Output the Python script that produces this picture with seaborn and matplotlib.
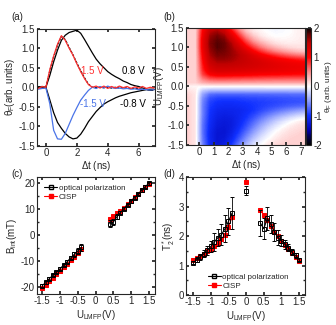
import numpy as np
import matplotlib
matplotlib.use("Agg")
import matplotlib.pyplot as plt
import seaborn as sns
from matplotlib.colors import LinearSegmentedColormap
from matplotlib.lines import Line2D
from matplotlib.ticker import MultipleLocator

# ---- panel (a): time traces ----
t_ns = [-0.5, -0.25, 0.0, 0.25, 0.5, 0.75, 1.0, 1.25, 1.5, 1.75, 2.0, 2.25, 2.5, 2.75, 3.0, 3.25,
        3.5, 3.75, 4.0, 4.25, 4.5, 4.75, 5.0, 5.25, 5.5, 5.75, 6.0, 6.25, 6.5, 6.75, 7.0]
red_p15 = [-0.03, 0.02, 0.0, 0.45, 0.8, 1.1, 1.32, 1.2, 1.0, 0.82, 0.6, 0.4, 0.22, 0.07, 0.0, 0.03,
           -0.02, 0.03, -0.03, 0.02, -0.02, 0.03, -0.01, 0.02, -0.03, 0.01, -0.02, 0.02, -0.03, 0.0, -0.02]
blk_p15 = [0.0, -0.02, 0.0, 0.42, 0.78, 1.08, 1.3, 1.22, 1.02, 0.83, 0.62, 0.42, 0.24, 0.08, 0.0, -0.01,
           0.0, -0.01, 0.0, -0.02, 0.0, -0.02, -0.01, -0.02, -0.03, -0.03, -0.04, -0.05, -0.06, -0.07, -0.08]
blk_p08 = [0.0, -0.02, 0.0, 0.3, 0.65, 0.95, 1.2, 1.33, 1.4, 1.43, 1.46, 1.38, 1.22, 1.05, 0.88, 0.72,
           0.6, 0.5, 0.4, 0.33, 0.27, 0.22, 0.16, 0.12, 0.07, 0.04, 0.02, -0.02, -0.05, -0.08, -0.06]
blk_m08 = [0.0, 0.02, 0.0, -0.32, -0.65, -0.9, -1.05, -1.18, -1.27, -1.32, -1.3, -1.2, -1.05, -0.88, -0.75, -0.62,
           -0.52, -0.43, -0.37, -0.32, -0.27, -0.23, -0.2, -0.17, -0.14, -0.12, -0.1, -0.08, -0.06, -0.05, -0.05]
blue_m15 = [-0.05, -0.03, -0.02, -0.42, -1.1, -1.32, -1.33, -1.18, -0.95, -0.72, -0.52, -0.33, -0.2, -0.08, 0.0, -0.03,
            0.02, -0.02, 0.03, -0.01, -0.03, -0.02, -0.04, -0.03, -0.05, -0.04, -0.06, -0.05, -0.06, -0.07, -0.06]

# ---- panel (b): map, rows U = 1.5 ... -1.5, columns dt = -0.75 ... 7.25 ----
map_t = [-0.75, -0.25, 0.25, 0.75, 1.25, 1.75, 2.25, 2.75, 3.25, 3.75, 4.25, 4.75, 5.25, 5.75, 6.25, 6.75, 7.25]
map_u = [1.5, 1.4, 1.3, 1.2, 1.1, 1.0, 0.9, 0.8, 0.7, 0.6, 0.5, 0.4, 0.3, 0.2, 0.1, 0.0,
         -0.1, -0.2, -0.3, -0.4, -0.5, -0.6, -0.7, -0.8, -0.9, -1.0, -1.1, -1.2, -1.3, -1.4, -1.5]
theta_map = [
    [0.2, 0.2, 0.95, 1.35, 1.45, 1.25, 0.85, 0.45, 0.2, 0.08, 0.02, -0.03, -0.05, -0.03, 0.0, 0.05, 0.08],
    [0.2, 0.2, 1.05, 1.5, 1.6, 1.45, 1.05, 0.65, 0.3, 0.12, 0.05, 0.0, -0.03, -0.02, 0.0, 0.05, 0.08],
    [0.2, 0.2, 1.1, 1.6, 1.72, 1.6, 1.25, 0.85, 0.48, 0.24, 0.1, 0.03, 0.0, 0.0, 0.02, 0.05, 0.08],
    [0.2, 0.2, 1.15, 1.65, 1.78, 1.7, 1.42, 1.05, 0.68, 0.4, 0.22, 0.12, 0.06, 0.04, 0.04, 0.06, 0.08],
    [0.2, 0.2, 1.15, 1.68, 1.8, 1.75, 1.55, 1.22, 0.88, 0.6, 0.4, 0.25, 0.15, 0.1, 0.08, 0.08, 0.1],
    [0.2, 0.2, 1.15, 1.65, 1.8, 1.75, 1.6, 1.38, 1.08, 0.82, 0.6, 0.44, 0.32, 0.23, 0.17, 0.14, 0.12],
    [0.2, 0.2, 1.1, 1.6, 1.75, 1.72, 1.62, 1.48, 1.28, 1.05, 0.85, 0.68, 0.55, 0.45, 0.37, 0.3, 0.26],
    [0.2, 0.2, 1.05, 1.55, 1.7, 1.68, 1.62, 1.52, 1.4, 1.25, 1.1, 0.97, 0.85, 0.75, 0.66, 0.6, 0.55],
    [0.2, 0.2, 1.0, 1.48, 1.62, 1.62, 1.58, 1.5, 1.42, 1.33, 1.25, 1.17, 1.1, 1.03, 0.97, 0.92, 0.88],
    [0.2, 0.2, 0.95, 1.4, 1.52, 1.52, 1.5, 1.45, 1.4, 1.35, 1.3, 1.25, 1.2, 1.16, 1.12, 1.09, 1.06],
    [0.2, 0.2, 0.9, 1.3, 1.42, 1.42, 1.4, 1.38, 1.35, 1.32, 1.28, 1.25, 1.22, 1.19, 1.16, 1.14, 1.12],
    [0.2, 0.2, 0.85, 1.2, 1.3, 1.3, 1.28, 1.26, 1.24, 1.22, 1.2, 1.18, 1.16, 1.14, 1.12, 1.1, 1.1],
    [0.2, 0.2, 0.75, 1.0, 1.08, 1.08, 1.06, 1.05, 1.04, 1.02, 1.0, 0.99, 0.98, 0.97, 0.96, 0.95, 0.95],
    [0.2, 0.2, 0.55, 0.72, 0.76, 0.76, 0.75, 0.74, 0.73, 0.72, 0.71, 0.7, 0.7, 0.69, 0.68, 0.68, 0.68],
    [0.2, 0.2, 0.35, 0.42, 0.44, 0.44, 0.43, 0.43, 0.42, 0.42, 0.41, 0.41, 0.4, 0.4, 0.4, 0.4, 0.4],
    [0.06, 0.04, 0.02, 0.02, 0.02, 0.02, 0.02, 0.02, 0.02, 0.02, 0.02, 0.02, 0.02, 0.02, 0.02, 0.02, 0.02],
    [0.12, 0.08, -0.25, -0.35, -0.36, -0.36, -0.36, -0.36, -0.36, -0.36, -0.36, -0.35, -0.35, -0.35, -0.35, -0.35, -0.35],
    [0.18, 0.1, -0.45, -0.7, -0.75, -0.75, -0.75, -0.75, -0.74, -0.74, -0.73, -0.73, -0.72, -0.72, -0.71, -0.7, -0.7],
    [0.2, 0.1, -0.55, -0.85, -0.92, -0.93, -0.93, -0.92, -0.9, -0.89, -0.88, -0.87, -0.86, -0.85, -0.84, -0.83, -0.82],
    [0.2, 0.1, -0.6, -0.92, -1.0, -1.02, -1.02, -1.0, -0.98, -0.96, -0.94, -0.92, -0.9, -0.88, -0.86, -0.85, -0.84],
    [0.2, 0.1, -0.62, -0.95, -1.05, -1.07, -1.07, -1.05, -1.02, -0.98, -0.94, -0.9, -0.86, -0.82, -0.78, -0.75, -0.72],
    [0.2, 0.1, -0.62, -0.98, -1.1, -1.12, -1.12, -1.1, -1.05, -0.98, -0.9, -0.82, -0.74, -0.66, -0.59, -0.53, -0.48],
    [0.2, 0.1, -0.62, -1.0, -1.13, -1.16, -1.14, -1.1, -1.02, -0.92, -0.8, -0.68, -0.57, -0.47, -0.38, -0.3, -0.25],
    [0.2, 0.1, -0.64, -1.02, -1.16, -1.2, -1.18, -1.1, -0.98, -0.84, -0.68, -0.53, -0.4, -0.28, -0.18, -0.1, -0.04],
    [0.2, 0.1, -0.66, -1.04, -1.2, -1.23, -1.2, -1.08, -0.92, -0.74, -0.56, -0.4, -0.25, -0.13, -0.03, 0.05, 0.1],
    [0.2, 0.1, -0.68, -1.06, -1.22, -1.25, -1.2, -1.05, -0.86, -0.65, -0.45, -0.28, -0.14, -0.03, 0.06, 0.12, 0.15],
    [0.2, 0.1, -0.68, -1.08, -1.25, -1.27, -1.18, -1.0, -0.78, -0.55, -0.35, -0.18, -0.05, 0.05, 0.12, 0.15, 0.18],
    [0.2, 0.1, -0.68, -1.1, -1.27, -1.27, -1.15, -0.93, -0.68, -0.45, -0.25, -0.1, 0.02, 0.1, 0.15, 0.18, 0.2],
    [0.2, 0.1, -0.66, -1.1, -1.27, -1.25, -1.1, -0.85, -0.58, -0.34, -0.16, -0.03, 0.07, 0.14, 0.18, 0.2, 0.2],
    [0.2, 0.1, -0.64, -1.08, -1.27, -1.22, -1.03, -0.75, -0.47, -0.24, -0.08, 0.04, 0.12, 0.17, 0.2, 0.2, 0.2],
    [0.2, 0.1, -0.6, -1.06, -1.25, -1.17, -0.95, -0.63, -0.35, -0.14, 0.0, 0.1, 0.16, 0.2, 0.2, 0.2, 0.2],
]

# ---- panels (c), (d): voltage dependence ----
u_neg = [-1.5, -1.4, -1.3, -1.2, -1.1, -1.0, -0.9, -0.8, -0.7, -0.6, -0.5, -0.4]
u_pos = [0.4, 0.5, 0.6, 0.7, 0.8, 0.9, 1.0, 1.1, 1.2, 1.3, 1.4, 1.5]
u_zero = [0.0]

b_opt_neg = [-19.5, -18.3, -16.8, -15.5, -14.3, -13.0, -11.6, -10.3, -8.8, -7.5, -6.1, -4.8]
b_opt_neg_err = [0.6, 0.5, 0.5, 0.5, 0.5, 0.5, 0.5, 0.6, 0.6, 0.8, 1.2, 1.5]
b_cisp_neg = [-20.5, -19.3, -17.9, -16.6, -15.2, -13.8, -12.5, -11.1, -9.7, -8.3, -6.8, -5.3]
b_opt_pos = [4.4, 5.0, 7.0, 8.6, 10.2, 11.6, 13.0, 14.4, 15.8, 17.2, 18.6, 19.9]
b_opt_pos_err = [1.5, 1.3, 0.9, 0.7, 0.6, 0.5, 0.5, 0.5, 0.5, 0.5, 0.5, 0.6]
b_cisp_pos = [6.3, 7.3, 8.3, 9.3, 10.5, 11.8, 13.2, 14.5, 15.9, 17.2, 18.5, 19.6]

t2_opt_neg = [1.1, 1.2, 1.3, 1.4, 1.52, 1.65, 1.8, 1.95, 2.05, 2.25, 2.5, 2.78]
t2_opt_neg_err = [0.05, 0.08, 0.1, 0.12, 0.15, 0.2, 0.3, 0.3, 0.35, 0.45, 0.45, 0.55]
t2_cisp_neg = [1.2, 1.26, 1.33, 1.4, 1.48, 1.57, 1.67, 1.78, 1.9, 2.05, 2.3, 2.65]
t2_opt_pos = [2.45, 2.25, 2.6, 2.4, 2.15, 1.95, 1.85, 1.72, 1.6, 1.45, 1.35, 1.2]
t2_opt_pos_err = [0.45, 0.35, 0.4, 0.3, 0.3, 0.25, 0.2, 0.15, 0.12, 0.1, 0.08, 0.05]
t2_cisp_pos = [2.88, 2.72, 2.56, 2.35, 2.15, 2.0, 1.85, 1.7, 1.55, 1.42, 1.28, 1.15]
t2_opt_zero = [3.54]
t2_opt_zero_err = [0.15]
t2_cisp_zero = [3.84]

u_ticks = [-1.5, -1.0, -0.5, 0.0, 0.5, 1.0, 1.5]
u_ticklabels = ["-1.5", "-1", "-0.5", "0", "0.5", "1", "1.5"]

sns.set_theme(style="ticks")
plt.rcParams['font.family'] = ['Liberation Sans', 'DejaVu Sans']
plt.rcParams.update({
    'axes.unicode_minus': False,
    'mathtext.fontset': 'custom',
    'mathtext.rm': 'Liberation Sans',
    'mathtext.it': 'Liberation Sans:italic',
    'font.size': 7,
    'axes.labelsize': 7,
    'xtick.labelsize': 7,
    'ytick.labelsize': 7,
    'xtick.direction': 'in',
    'ytick.direction': 'in',
    'xtick.top': True,
    'ytick.right': True,
    'xtick.major.size': 2.5,
    'ytick.major.size': 2.5,
    'xtick.minor.size': 1.5,
    'ytick.minor.size': 1.5,
    'xtick.major.pad': 1.5,
    'ytick.major.pad': 1.5,
    'axes.linewidth': 0.8,
    'axes.labelpad': 1.0,
})

fig = plt.figure(figsize=(3.36, 3.25), dpi=100)
ax_a = fig.add_axes([0.110, 0.551, 0.351, 0.361])
ax_b = fig.add_axes([0.554, 0.554, 0.354, 0.360])
cax = fig.add_axes([0.911, 0.554, 0.015, 0.360])
ax_c = fig.add_axes([0.110, 0.095, 0.351, 0.360])
ax_d = fig.add_axes([0.554, 0.092, 0.354, 0.363])

# (a)
red_c = '#ff3030'
blue_c = '#4a74e8'
sns.lineplot(x=t_ns, y=blk_p15, color='black', lw=0.9, ls=(0, (2, 1)), ax=ax_a)
sns.lineplot(x=t_ns, y=blk_p08, color='black', lw=0.9, ax=ax_a)
sns.lineplot(x=t_ns, y=blk_m08, color='black', lw=0.9, ax=ax_a)
sns.lineplot(x=t_ns, y=blue_m15, color=blue_c, lw=0.9, ax=ax_a)
sns.lineplot(x=t_ns, y=red_p15, color=red_c, lw=0.9, ax=ax_a)
ax_a.text(2.3, 0.42, '1.5 V', color=red_c, fontsize=7, va='center')
ax_a.text(4.9, 0.42, '0.8 V', color='black', fontsize=7, va='center')
ax_a.text(2.2, -0.43, '-1.5 V', color=blue_c, fontsize=7, va='center')
ax_a.text(4.8, -0.43, '-0.8 V', color='black', fontsize=7, va='center')
ax_a.set_xlim(-0.58, 7.05)
ax_a.set_ylim(-1.5, 1.5)
ax_a.set_xticks([0, 2, 4, 6])
ax_a.set_yticks([-1.5, -1.0, -0.5, 0.0, 0.5, 1.0, 1.5])
ax_a.yaxis.set_major_formatter('{x:.1f}')
ax_a.set_xlabel(r'$\Delta$t (ns)')
ax_a.set_ylabel(r'$\mathrm{\theta_F}$(arb. units)')

# (b)
cmap = LinearSegmentedColormap.from_list('rwb', [
    (0.0, 'black'), (0.07, '#000050'), (0.125, '#0000b0'), (0.25, '#1030ff'), (0.375, '#8c9cff'),
    (0.5, 'white'), (0.625, '#ff8c8c'), (0.75, '#ff0000'), (0.875, '#c00000'), (0.94, '#6a0000'),
    (1.0, 'black')])
dt_half = 0.25
du_half = 0.05
im = ax_b.imshow(np.array(theta_map), cmap=cmap, vmin=-2, vmax=2, aspect='auto', origin='upper',
                 interpolation='bilinear',
                 extent=[map_t[0] - dt_half, map_t[-1] + dt_half, map_u[-1] - du_half, map_u[0] + du_half])
ax_b.set_xlim(-0.9, 7.3)
ax_b.set_ylim(-1.5, 1.5)
ax_b.set_xticks(range(8))
ax_b.set_yticks([-1.5, -1.0, -0.5, 0.0, 0.5, 1.0, 1.5])
ax_b.yaxis.set_major_formatter('{x:.1f}')
ax_b.tick_params(top=False, right=False)
ax_b.set_xlabel(r'$\Delta$t (ns)')
ax_b.set_ylabel(r'U$_\mathrm{LMFP}$(V)')
cb = fig.colorbar(im, cax=cax, ticks=[-2, -1, 0, 1, 2])
cb.ax.tick_params(labelsize=7, length=2, direction='in', pad=1.5)
cb.outline.set_linewidth(0.8)
cb.ax.text(4.4, 0.5, r'$\mathrm{\theta_F}$ (arb. units)', fontsize=6.0, rotation=90,
           ha='center', va='center', transform=cb.ax.transAxes)


def branch(ax, u, opt, opt_err, cisp):
    ax.errorbar(u, opt, yerr=opt_err, fmt='-s', color='black', mfc='none', mec='black', ms=3.5,
                lw=0.8, mew=0.7, elinewidth=0.6, capsize=1.5, capthick=0.6, zorder=3)
    sns.lineplot(x=u, y=cisp, color='red', marker='s', markersize=3.5, markeredgecolor='red',
                 lw=0.8, ax=ax, zorder=2)


def legend(ax, **kw):
    handles = [Line2D([], [], color='black', marker='s', mfc='none', ms=3.5, lw=0.8),
               Line2D([], [], color='red', marker='s', ms=3.5, lw=0.8)]
    ax.legend(handles, ['optical polarization', 'CISP'], frameon=False, fontsize=5.8,
              handlelength=1.6, handletextpad=0.2, labelspacing=0.2, **kw)


# (c)
branch(ax_c, u_neg, b_opt_neg, b_opt_neg_err, b_cisp_neg)
branch(ax_c, u_pos, b_opt_pos, b_opt_pos_err, b_cisp_pos)
ax_c.set_xlim(-1.65, 1.67)
ax_c.set_ylim(-22.8, 22.3)
ax_c.set_xticks(u_ticks)
ax_c.set_xticklabels(u_ticklabels)
ax_c.set_yticks([-20, -10, 0, 10, 20])
ax_c.yaxis.set_minor_locator(MultipleLocator(5))
ax_c.set_xlabel(r'U$_\mathrm{LMFP}$(V)')
ax_c.set_ylabel(r'B$_\mathrm{int}$(mT)')
legend(ax_c, loc='upper left', bbox_to_anchor=(0.0, 1.0))

# (d)
branch(ax_d, u_neg, t2_opt_neg, t2_opt_neg_err, t2_cisp_neg)
branch(ax_d, u_pos, t2_opt_pos, t2_opt_pos_err, t2_cisp_pos)
branch(ax_d, u_zero, t2_opt_zero, t2_opt_zero_err, t2_cisp_zero)
ax_d.set_xlim(-1.7, 1.67)
ax_d.set_ylim(0, 4)
ax_d.set_xticks(u_ticks)
ax_d.set_xticklabels(u_ticklabels)
ax_d.set_yticks([0, 1, 2, 3, 4])
ax_d.yaxis.set_minor_locator(MultipleLocator(0.5))
ax_d.set_xlabel(r'U$_\mathrm{LMFP}$(V)')
ax_d.set_ylabel(r'T$_2^*$(ns)')
legend(ax_d, loc='lower left', bbox_to_anchor=(0.12, -0.02))

for lab, x, y in [('(a)', 0.035, 0.94), ('(b)', 0.487, 0.94), ('(c)', 0.035, 0.455), ('(d)', 0.487, 0.455)]:
    fig.text(x, y, lab, fontsize=7)

fig.savefig('out.png', dpi=100)
